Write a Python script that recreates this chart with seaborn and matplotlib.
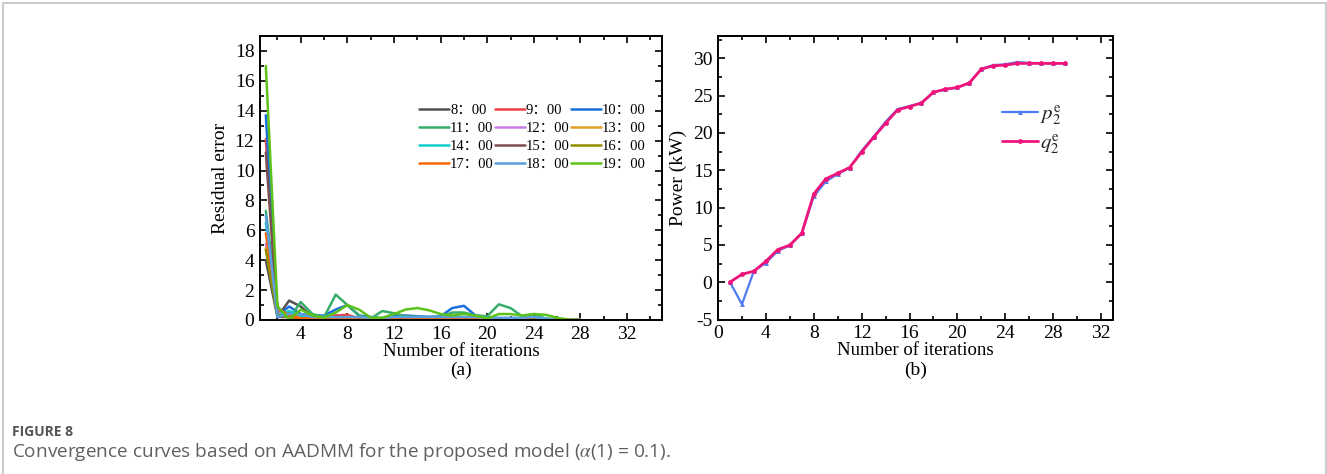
import numpy as np
import pandas as pd
import matplotlib
matplotlib.use("Agg")
import matplotlib.pyplot as plt
from matplotlib.ticker import MultipleLocator
from matplotlib.lines import Line2D
import seaborn as sns

# ---------------- data ----------------
times = ["8：00", "9：00", "10：00", "11：00", "12：00", "13：00",
         "14：00", "15：00", "16：00", "17：00", "18：00", "19：00"]
colors = ["#515151", "#F14040", "#1A6FDF", "#37AD6B", "#C77DE6", "#E0A020",
          "#10CCCC", "#7D4E4E", "#8E8E00", "#FB6501", "#5A9FE0", "#5CC21A"]

iters_a = list(range(1, 29))
res_0800 = [4.0, 0.2, 1.3, 0.9, 0.2, 0.1, 0.3, 0.1, 0.1, 0.05, 0.05, 0.05, 0.05, 0.05,
            0.05, 0.05, 0.05, 0.05, 0.05, 0.05, 0.05, 0.05, 0.05, 0.1, 0.0, 0.0, 0.0, 0.0]
res_0900 = [12.1, 0.6, 0.5, 0.3, 0.2, 0.2, 0.3, 0.35, 0.1, 0.05, 0.05, 0.05, 0.05, 0.05,
            0.05, 0.05, 0.05, 0.05, 0.05, 0.05, 0.05, 0.05, 0.05, 0.05, 0.0, 0.0, 0.0, 0.0]
res_1000 = [13.7, 0.3, 0.9, 0.4, 0.3, 0.3, 0.7, 1.0, 0.3, 0.2, 0.1, 0.3, 0.3, 0.25,
            0.2, 0.25, 0.8, 0.95, 0.3, 0.2, 0.1, 0.1, 0.1, 0.1, 0.05, 0.0, 0.0, 0.0]
res_1100 = [7.3, 0.9, 0.1, 1.2, 0.4, 0.2, 1.7, 1.0, 0.3, 0.1, 0.6, 0.45, 0.25, 0.2,
            0.2, 0.2, 0.5, 0.5, 0.3, 0.25, 1.05, 0.8, 0.25, 0.4, 0.1, 0.05, 0.0, 0.0]
res_1200 = [5.1, 0.5, 0.3, 0.2, 0.15, 0.1, 0.1, 0.1, 0.05, 0.05, 0.05, 0.05, 0.05, 0.05,
            0.05, 0.05, 0.05, 0.05, 0.05, 0.05, 0.05, 0.05, 0.05, 0.05, 0.0, 0.0, 0.0, 0.0]
res_1300 = [4.8, 0.4, 0.2, 0.3, 0.15, 0.1, 0.1, 0.1, 0.05, 0.05, 0.05, 0.05, 0.1, 0.1,
            0.05, 0.05, 0.05, 0.05, 0.05, 0.05, 0.05, 0.05, 0.05, 0.05, 0.0, 0.0, 0.0, 0.0]
res_1400 = [6.5, 0.3, 0.6, 0.3, 0.2, 0.15, 0.15, 0.1, 0.1, 0.05, 0.05, 0.1, 0.1, 0.1,
            0.1, 0.1, 0.1, 0.1, 0.1, 0.05, 0.05, 0.05, 0.05, 0.05, 0.0, 0.0, 0.0, 0.0]
res_1500 = [11.2, 0.2, 0.2, 0.1, 0.1, 0.05, 0.05, 0.05, 0.05, 0.05, 0.05, 0.05, 0.05, 0.05,
            0.05, 0.05, 0.05, 0.05, 0.05, 0.05, 0.05, 0.05, 0.05, 0.05, 0.0, 0.0, 0.0, 0.0]
res_1600 = [4.7, 0.3, 0.2, 0.1, 0.1, 0.05, 0.05, 0.05, 0.05, 0.05, 0.05, 0.05, 0.05, 0.05,
            0.05, 0.05, 0.05, 0.05, 0.05, 0.05, 0.05, 0.05, 0.05, 0.05, 0.0, 0.0, 0.0, 0.0]
res_1700 = [5.8, 0.8, 0.3, 0.1, 0.1, 0.1, 0.1, 0.1, 0.05, 0.05, 0.05, 0.1, 0.15, 0.15,
            0.1, 0.1, 0.05, 0.05, 0.05, 0.05, 0.05, 0.05, 0.05, 0.0, 0.0, 0.0, 0.0, 0.0]
res_1800 = [7.0, 0.2, 0.4, 0.4, 0.2, 0.2, 0.2, 0.2, 0.2, 0.15, 0.15, 0.2, 0.2, 0.2,
            0.2, 0.2, 0.2, 0.2, 0.2, 0.15, 0.15, 0.15, 0.15, 0.2, 0.1, 0.0, 0.0, 0.0]
res_1900 = [17.0, 0.9, 0.05, 0.7, 0.3, 0.15, 0.5, 1.0, 0.7, 0.15, 0.15, 0.4, 0.7, 0.8,
            0.65, 0.4, 0.3, 0.4, 0.3, 0.1, 0.4, 0.4, 0.3, 0.4, 0.35, 0.15, 0.02, 0.0]
residuals = [res_0800, res_0900, res_1000, res_1100, res_1200, res_1300,
             res_1400, res_1500, res_1600, res_1700, res_1800, res_1900]

iters_b = list(range(1, 30))
p2e = [0.0, -2.95, 1.5, 2.6, 4.2, 4.95, 6.55, 11.5, 13.5, 14.5, 15.35, 17.6, 19.5, 21.5,
       23.2, 23.6, 24.0, 25.45, 25.85, 26.1, 26.7, 28.6, 29.1, 29.2, 29.5, 29.4, 29.35, 29.33, 29.33]
q2e = [0.0, 1.06, 1.47, 2.81, 4.38, 4.97, 6.58, 11.83, 13.85, 14.61, 15.37, 17.44, 19.41, 21.30,
       23.09, 23.54, 24.03, 25.47, 25.87, 26.10, 26.72, 28.56, 29.01, 29.10, 29.33, 29.33, 29.33, 29.33, 29.33]

# ---------------- style ----------------
sns.set_theme(style="ticks")
plt.rcParams["font.family"] = ["Liberation Serif", "Noto Sans CJK SC"]
plt.rcParams["mathtext.fontset"] = "stix"
plt.rcParams["axes.unicode_minus"] = False

W, H = 1327, 474
fig = plt.figure(figsize=(W / 100, H / 100), dpi=100)
fig.patch.set_facecolor("white")

def px_axes(x0, y0, x1, y1):
    return fig.add_axes([x0 / W, 1 - y1 / H, (x1 - x0) / W, (y1 - y0) / H])

axA = px_axes(260, 36, 662, 320)
axB = px_axes(718, 36, 1113, 319.5)

def style_axes(ax):
    for s in ax.spines.values():
        s.set_linewidth(1.4)
        s.set_color("black")
    ax.tick_params(which="both", direction="in", top=True, right=True,
                   colors="black", labelsize=14, width=1.2)
    ax.tick_params(which="major", length=5, pad=4)
    ax.tick_params(which="minor", length=3)
    ax.set_facecolor("white")

# ----- panel (a) -----
for name, vals, col in zip(times, residuals, colors):
    sns.lineplot(x=iters_a, y=vals, color=col, linewidth=1.8, ax=axA, label=name)
axA.set_xlim(0.5, 35)
axA.set_ylim(0, 19)
axA.xaxis.set_major_locator(MultipleLocator(4))
axA.xaxis.set_minor_locator(MultipleLocator(2))
axA.yaxis.set_major_locator(MultipleLocator(2))
axA.yaxis.set_minor_locator(MultipleLocator(1))
style_axes(axA)
axA.set_xlabel("Number of iterations", fontsize=13.5, labelpad=0, color="black")
axA.set_ylabel("Residual error", fontsize=14, labelpad=4, color="black")
axA.text(0.5, -0.176, "(a)", transform=axA.transAxes, ha="center", va="center",
         fontsize=14, color="black")
hA, lA = axA.get_legend_handles_labels()
nrow, ncol = 4, 3
order = [r * ncol + c for c in range(ncol) for r in range(nrow)]
legA = axA.legend([hA[i] for i in order], [lA[i] for i in order], ncol=ncol,
                  loc="upper left", bbox_to_anchor=(0.395, 0.76),
                  frameon=False, fontsize=10.5, handlelength=2.1,
                  handletextpad=0.05, columnspacing=0.05, labelspacing=0.33,
                  borderaxespad=0, borderpad=0)
for t in legA.get_texts():
    t.set_color("black")

# ----- panel (b) -----
sns.lineplot(x=iters_b, y=p2e, color="#4F7BF0", linewidth=1.6, marker="^",
             markersize=3.5, markeredgewidth=0, ax=axB, label=r"$p_2^{\mathrm{e}}$")
sns.lineplot(x=iters_b, y=q2e, color="#F0157A", linewidth=2.0, marker="o",
             markersize=3.5, markeredgewidth=0, ax=axB, label=r"$q_2^{\mathrm{e}}$")
axB.set_xlim(0, 33)
axB.set_ylim(-5, 33)
axB.xaxis.set_major_locator(MultipleLocator(4))
axB.xaxis.set_minor_locator(MultipleLocator(2))
axB.yaxis.set_major_locator(MultipleLocator(5))
axB.yaxis.set_minor_locator(MultipleLocator(2.5))
style_axes(axB)
axB.set_xlabel("Number of iterations", fontsize=13.5, labelpad=0, color="black")
axB.set_ylabel("Power (kW)", fontsize=14, labelpad=4, color="black")
axB.text(0.5, -0.18, "(b)", transform=axB.transAxes, ha="center", va="center",
         fontsize=14, color="black")
legB = axB.legend(loc="upper left", bbox_to_anchor=(0.718, 0.762), frameon=False,
                  fontsize=15, handlelength=1.75, handletextpad=0.1,
                  labelspacing=0.25, borderaxespad=0, borderpad=0)

# ----- caption & frame -----
fig.text(12 / W, 1 - 432 / H, "FIGURE 8", fontsize=10, fontweight="bold",
         family="Open Sans", color="#555555", ha="left", va="center")
fig.text(12 / W, 1 - 452 / H,
         r"Convergence curves based on AADMM for the proposed model ($\alpha$(1) = 0.1).",
         fontsize=13.7, family="Open Sans", color="#5f5f5f", ha="left", va="center")

for (xs, ys) in [((3.5, 3.5), (0, 471)), ((3.5, 1326), (471, 471)), ((1326, 1326), (471, 0))]:
    fig.add_artist(Line2D([x / W for x in xs], [y / H for y in ys],
                          color="#cccccc", linewidth=1.5))

fig.savefig("out.png", dpi=100, facecolor="white")
